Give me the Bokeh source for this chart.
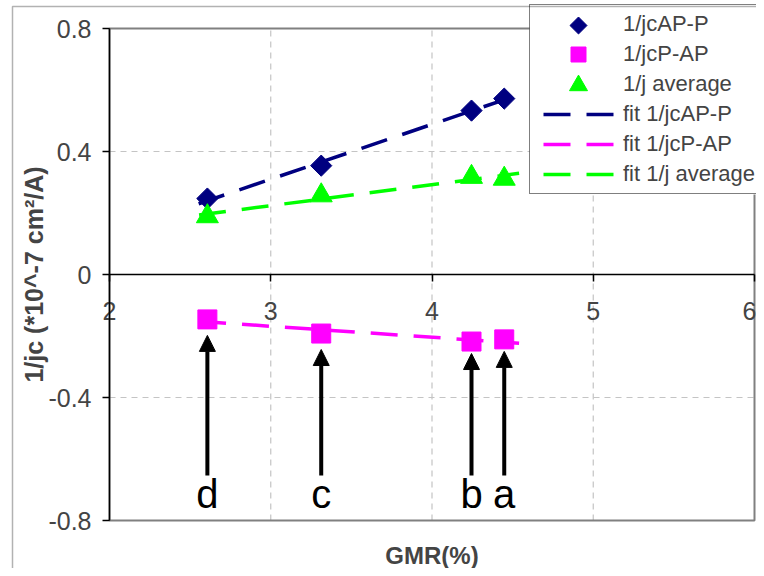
import numpy as np
from bokeh.plotting import figure
from bokeh.models import (ColumnDataSource, FixedTicker, LinearAxis, Range1d, Legend, LegendItem,
                          Arrow, NormalHead, Label, BoxAnnotation)
from bokeh.core.properties import value
from bokeh.embed import file_html
from bokeh.resources import INLINE

# ---------------- data ----------------
gmr = [2.607, 3.313, 4.245, 4.448]
inv_jc_ap_p = [0.247, 0.354, 0.533, 0.572]
inv_jc_p_ap = [-0.146, -0.192, -0.218, -0.211]
inv_j_avg = [0.189, 0.257, 0.317, 0.311]
fit_range = [2.50, 4.54]

sample_labels = ["d", "c", "b", "a"]
arrow_tail = [-0.654, -0.654, -0.654, -0.654]
arrow_tip = [-0.198, -0.244, -0.257, -0.250]
label_y = [-0.715, -0.715, -0.715, -0.715]

x_ticks = [2, 3, 4, 5, 6]
x_tick_labels = ["2", "3", "4", "5", "6"]
y_ticks = [-0.8, -0.4, 0, 0.4, 0.8]
y_tick_labels = ["-0.8", "-0.4", "0", "0.4", "0.8"]
x_grid = [3, 4, 5]
y_grid = [-0.4, 0.4]

series_names = ["1/jcAP-P", "1/jcP-AP", "1/j average"]
fit_names = ["fit 1/jcAP-P", "fit 1/jcP-AP", "fit 1/j average"]

FONT = "Liberation Sans"
NAVY = "#000080"
MAGENTA = "#FF00FF"
LIME = "#00FF00"

# ---------------- layout (canvas pixels) ----------------
W, H = 756, 568
PL, PT, PR, PB = 109, 28, 754, 520          # plot area edges
LEG_L, LEG_T, LEG_B = 529, 6, 194           # legend box edges
kx = (PR - PL) / (x_ticks[-1] - x_ticks[0])
ky = (PB - PT) / (y_ticks[-1] - y_ticks[0])
x0 = x_ticks[0] - PL / kx
y1 = y_ticks[-1] + PT / ky


def px2x(px):
    return x0 + px / kx


def px2y(py):
    return y1 - py / ky


p = figure(width=W, height=H, output_backend="svg", toolbar_location=None,
           x_range=Range1d(x0, x0 + W / kx), y_range=Range1d(y1 - H / ky, y1),
           x_axis_location=None, y_axis_location=None,
           min_border_left=0, min_border_right=0, min_border_top=0, min_border_bottom=0)
p.background_fill_color = "white"
p.border_fill_color = "white"
p.outline_line_alpha = 0
for g in p.grid:
    g.visible = False

# grid lines (dashed, light grey), limited to the plot area
p.segment(x0=x_grid, y0=[y_ticks[0]] * len(x_grid), x1=x_grid, y1=[y_ticks[-1]] * len(x_grid),
          line_color="#c4c4c4", line_dash="6 5", line_width=1.2, level="underlay")
p.segment(x0=[x_ticks[0]] * len(y_grid), y0=y_grid, x1=[x_ticks[-1]] * len(y_grid), y1=y_grid,
          line_color="#c4c4c4", line_dash="6 5", line_width=1.2, level="underlay")
# plot area border
p.quad(left=x_ticks[0], right=x_ticks[-1], bottom=y_ticks[0], top=y_ticks[-1],
       fill_color=None, line_color="#808080", line_width=2, level="underlay")
# white backing of the legend box
p.quad(left=[px2x(LEG_L)], right=[px2x(W + 50)], bottom=[px2y(LEG_B)], top=[px2y(LEG_T)],
       fill_color="white", line_alpha=0, level="underlay")

# y axis
yaxis = LinearAxis(ticker=FixedTicker(ticks=y_ticks), fixed_location=x_ticks[0],
                   bounds=(y_ticks[0], y_ticks[-1]),
                   major_label_overrides={t: l for t, l in zip(y_ticks, y_tick_labels)})
yaxis.axis_label = "1/jc (*10^-7 cm\u00b2/A)"
yaxis.axis_label_text_font = FONT
yaxis.axis_label_text_font_style = "bold"
yaxis.axis_label_text_font_size = "25px"
yaxis.axis_label_standoff = -3
yaxis.major_label_text_font = FONT
yaxis.major_label_text_font_size = "25px"
yaxis.major_label_standoff = 11
yaxis.major_tick_out = 7
yaxis.major_tick_in = 0
yaxis.minor_tick_out = 0
yaxis.minor_tick_in = 0
yaxis.axis_line_color = "black"
yaxis.axis_line_width = 1.5
yaxis.major_tick_line_width = 1.5
p.add_layout(yaxis, "left")

# x axis, crossing at y = 0
xaxis = LinearAxis(ticker=FixedTicker(ticks=x_ticks), fixed_location=0,
                   bounds=(x_ticks[0], x_ticks[-1]),
                   major_label_overrides={t: l for t, l in zip(x_ticks, x_tick_labels)})
xaxis.major_label_text_font = FONT
xaxis.major_label_text_font_size = "25px"
xaxis.major_label_standoff = 20
xaxis.major_tick_out = 7
xaxis.major_tick_in = 0
xaxis.minor_tick_out = 0
xaxis.minor_tick_in = 0
xaxis.axis_line_color = "black"
xaxis.axis_line_width = 1.5
xaxis.major_tick_line_width = 1.5
p.add_layout(xaxis, "below")

# fit lines (linear trendlines)
fx = np.array(fit_range)
fits = []
for ys in (inv_jc_ap_p, inv_jc_p_ap, inv_j_avg):
    k, b = np.polyfit(gmr, ys, 1)
    fits.append(k * fx + b)

DASH = "27 16"
OFF = 34
f1 = p.line(fx, fits[0], line_color=NAVY, line_width=3.5, line_dash=DASH, line_dash_offset=OFF)
f2 = p.line(fx, fits[1], line_color=MAGENTA, line_width=3.5, line_dash=DASH, line_dash_offset=OFF)
f3 = p.line(fx, fits[2], line_color=LIME, line_width=3.5, line_dash=DASH, line_dash_offset=OFF)

src = ColumnDataSource(dict(x=gmr, ap=inv_jc_ap_p, pap=inv_jc_p_ap, avg=inv_j_avg,
                            lab=sample_labels, tail=arrow_tail, tip=arrow_tip, ly=label_y))

s1 = p.scatter("x", "ap", source=src, marker="square", angle=np.pi / 4, size=15,
               fill_color=NAVY, line_color=NAVY)
s2 = p.scatter("x", "pap", source=src, marker="square", size=19,
               fill_color=MAGENTA, line_color=MAGENTA)
s3 = p.scatter("x", "avg", source=src, marker="triangle", size=22,
               fill_color=LIME, line_color=LIME)

# legend marker samples (the legend box itself is transparent)
p.scatter([px2x(578)], [px2y(25)], marker="square", angle=np.pi / 4, size=12,
          fill_color=NAVY, line_color=NAVY)
p.scatter([px2x(578)], [px2y(54)], marker="square", size=15,
          fill_color=MAGENTA, line_color=MAGENTA)
p.scatter([px2x(578)], [px2y(85)], marker="triangle", size=18,
          fill_color=LIME, line_color=LIME)

# arrows and sample letters
p.add_layout(Arrow(source=src, x_start="x", y_start="tail", x_end="x", y_end="tip",
                   line_color="black", line_width=4,
                   end=NormalHead(size=16, fill_color="black", line_color="black")))
p.text("x", "ly", text="lab", source=src, text_font=value(FONT), text_font_size=value("40px"),
       text_align="center", text_baseline="middle", text_color="black")

# x axis title
p.add_layout(Label(x=(x_ticks[0] + x_ticks[-1]) / 2, y=px2y(555), text="GMR(%)",
                   text_align="center", text_baseline="middle",
                   text_font=FONT, text_font_style="bold", text_font_size="24px"))

# outer chart border
p.add_layout(BoxAnnotation(left=px2x(12), top=px2y(6), right=px2x(3000), bottom=px2y(3000),
                           fill_alpha=0, line_color="black", line_width=1.5))

# invisible proxy for legend rows whose markers are drawn separately
pm = p.scatter(x=[], y=[], size=1, fill_alpha=0, line_alpha=0)

lg = Legend(items=[LegendItem(label=n, renderers=[pm]) for n in series_names] +
            [LegendItem(label=n, renderers=[r]) for n, r in zip(fit_names, (f1, f2, f3))],
            location=(LEG_L, H - LEG_B))
lg.label_text_font = FONT
lg.label_text_font_size = "22px"
lg.padding = 4
lg.margin = 0
lg.spacing = 0
lg.glyph_width = 81
lg.glyph_height = 30
lg.label_height = 30
lg.label_standoff = 8
lg.border_line_color = "black"
lg.border_line_width = 1.5
lg.background_fill_alpha = 0
p.add_layout(lg, "center")

open("out.html", "w").write(file_html(p, INLINE))
